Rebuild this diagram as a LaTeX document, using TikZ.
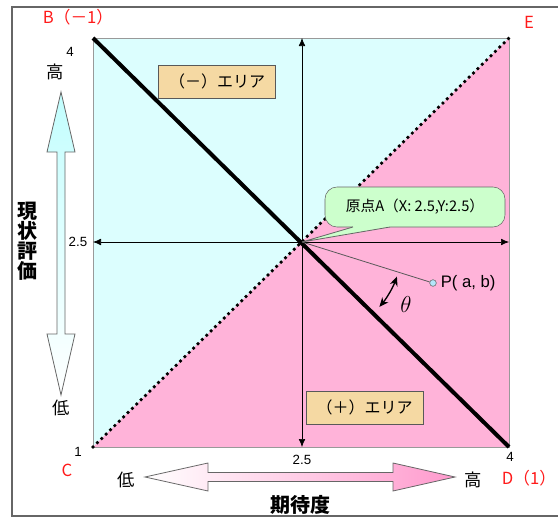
\documentclass[tikz,border=0pt]{standalone}
\usepackage{fontspec}
\setmainfont{Liberation Sans}
\newfontfamily\jp{Noto Sans CJK JP}
\usepackage{xcolor}
\usepackage{tikz}
\usetikzlibrary{arrows.meta,calc}

\definecolor{areacyan}{HTML}{DCFEFE}
\definecolor{areapink}{HTML}{FFB3D9}
\definecolor{arrowpink}{HTML}{FF9ACD}
\definecolor{tagtan}{HTML}{F5D9A3}
\definecolor{notegreen}{HTML}{CCFFCC}
\definecolor{ptred}{HTML}{FF1A1A}

\begin{document}
\begin{tikzpicture}[x=0.75pt, y=-0.75pt,
  axis/.style={{Latex[length=6pt,width=5pt]}-{Latex[length=6pt,width=5pt]}, line width=0.5pt},
  tag/.style={draw=black!65, fill=tagtan, minimum width=88pt, minimum height=25pt,
              font=\jp\fontsize{12}{14}\selectfont},
  ptlbl/.style={text=ptred, font=\jp\fontsize{12.5}{15}\selectfont},
  jlbl/.style={font=\jp\fontsize{13}{15}\selectfont},
  num/.style={font=\fontsize{10}{12}\selectfont, inner sep=1pt},
  bigarr/.style={draw=black!60, line width=0.6pt}
]
\useasboundingbox (0,0) rectangle (558,518);

% Frame
\draw[black!60, line width=0.8pt] (558,7) -- (12,7) -- (12,516) -- (558,516);

% Corners and origin
\coordinate (B) at (93,38);
\coordinate (C) at (93,447);
\coordinate (D) at (509,447);
\coordinate (E) at (509,38);
\coordinate (A) at (302,242);

% Areas
\fill[areacyan] (C) -- (B) -- (E) -- cycle;
\fill[areapink] (C) -- (D) -- (E) -- cycle;
\draw[black!40, line width=0.7pt] (C) rectangle (E);

% Axes
\draw[axis] (A |- B) -- (A |- C);
\draw[axis] (A -| B) -- (A -| E);

% Diagonals
\draw[line width=3pt] (B) -- (D);
\draw[line width=2.8pt, line cap=round, dash pattern=on 0pt off 4.6pt] (C) -- (E);

% Area tags
\node[tag] (minus) at (217,81.5)  {（－）エリア};
\node[tag] (plus)  at (364.5,407.5) {（＋）エリア};

% Point P and angle
\node[circle, draw=black!60, fill=cyan!30, inner sep=0pt, minimum size=5pt] (P) at (433,283) {};
\draw[black!65, line width=0.6pt] (A) -- (P);
\node[anchor=west, font=\fontsize{12.5}{14}\selectfont, inner sep=3pt] (plbl) at (P.east) {P( a, b)};
\draw[{Stealth[length=7pt,width=6pt]}-{Stealth[length=7pt,width=6pt]}, line width=1pt]
  ($(A)+(20:101)$) arc[start angle=20, end angle=40, radius=101];
\node[font=\fontsize{16}{18}\selectfont] (theta) at (406,304) {$\theta$};

% Origin note
\node[draw=black!60, fill=notegreen, rounded corners=9pt, minimum width=135pt, minimum height=30pt,
      font=\jp\fontsize{11}{13}\selectfont] (orig) at (415,207) {原点A（X: 2.5,Y:2.5）};
\coordinate (pl) at (353,227);
\coordinate (pr) at (390,227);
\fill[notegreen] (pl) -- (A) -- (pr) -- ($(pr)+(0,-3)$) -- ($(pl)+(0,-3)$) -- cycle;
\draw[black!60, line width=0.6pt] (pl) -- (A) -- (pr);

% Big arrows
\shade[bigarr, top color=areacyan!85!cyan!90!white, bottom color=white]
  (61,92) -- (75,152) -- (65,152) -- (65,334) -- (75,334) -- (61,395)
  -- (47,334) -- (57,334) -- (57,152) -- (47,152) -- cycle;
\shade[bigarr, left color=white, right color=arrowpink]
  (145,477) -- (208,463) -- (208,472.5) -- (393,472.5) -- (393,463) -- (455,477)
  -- (393,491) -- (393,481.5) -- (208,481.5) -- (208,491) -- cycle;

% Axis texts
\node[jlbl] (yhi) at (55,72) {高};
\node[jlbl] (ylo) at (61,408) {低};
\node[jlbl] (xlo) at (126,480) {低};
\node[jlbl] (xhi) at (473,480) {高};
\node[font=\jp\bfseries\fontsize{15}{15}\selectfont, align=center] (ytitle) at (27,241)
  {現\\状\\評\\価};
\node[font=\jp\bfseries\fontsize{15}{15}\selectfont] (xtitle) at (300,505) {期待度};

% Scale numbers
\node[num] (y4)  at (70,52)   {4};
\node[num] (y25) at (78,242)  {2.5};
\node[num] (y1)  at (78,452)  {1};
\node[num] (x25) at (302,460) {2.5};
\node[num] (x4)  at (510,457) {4};

% Corner labels
\node[ptlbl] (lblB) at (78,17)   {B（－1）};
\node[ptlbl] (lblE) at (529,22)  {E};
\node[ptlbl] (lblC) at (67,470)  {C};
\node[ptlbl] (lblD) at (529,478) {D（1）};

\end{tikzpicture}
\end{document}
